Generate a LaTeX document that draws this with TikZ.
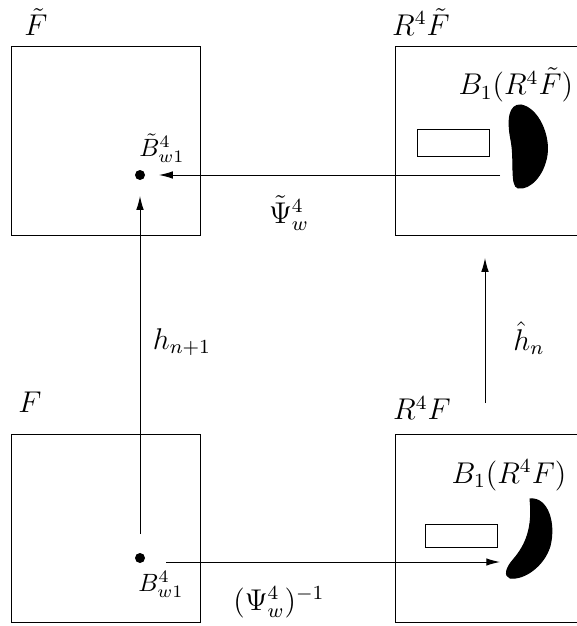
\documentclass[tikz,border=0pt]{standalone}
\usetikzlibrary{arrows.meta}
\begin{document}
\begin{tikzpicture}[x=0.4pt,y=-0.4pt,
  panel/.style={draw, minimum width=75.2pt, minimum height=75.2pt, inner sep=0pt},
  pt/.style={circle, fill, inner sep=0pt, minimum size=4pt},
  conn/.style={-{Latex[length=5.5pt,width=3pt]}},
  lab/.style={inner sep=0pt, font=\large},
  sublab/.style={inner sep=0pt, font=\normalsize},
  smallbox/.style={draw, minimum width=28.8pt, inner sep=0pt},
  blob/.style={fill=black, draw=black}]
\useasboundingbox (0,0) rectangle (576,626);
% panels
\node[panel] (Ft) at (106,141) {};
\node[panel] (RFt) at (489,141) {};
\node[panel] (F) at (106,528) {};
\node[panel] (RF) at (489,528) {};
% panel titles
\node[lab] (tFt) at (36,22) {$\tilde F$};
\node[lab] (tRFt) at (421,22) {$R^4\tilde F$};
\node[lab] (tF) at (30,402) {$F$};
\node[lab] (tRF) at (422,408) {$R^4F$};
% regions
\node[lab, anchor=west] (bRFt) at (458,85) {$B_1(R^4\tilde F)$};
\node[lab] (bRF) at (509,475) {$B_1(R^4F)$};
\node[smallbox, minimum height=10.4pt] (rt) at (453,143) {};
\node[smallbox, minimum height=9.2pt] (rb) at (461,535.5) {};
\fill[blob] (521,105) .. controls (538,108) and (550,135) .. (547,155)
  .. controls (544,175) and (530,190) .. (518,188)
  .. controls (510,186) and (515,160) .. (511,140)
  .. controls (507,120) and (509,104) .. (521,105) -- cycle;
\fill[blob] (530,499) .. controls (547,497) and (556,522) .. (550,546)
  .. controls (544,566) and (524,580) .. (510,578)
  .. controls (504,576) and (506,568) .. (513,560)
  .. controls (526,545) and (533,528) .. (530,499) -- cycle;
% points
\node[pt] (pT) at (140,175) {};
\node[pt] (pB) at (140,558) {};
\node[sublab] (lT) at (162,148) {$\tilde B^4_{w1}$};
\node[sublab] (lB) at (161,584) {$B^4_{w1}$};
% connectors
\coordinate (aTs) at (500,175);
\draw[conn, shorten >=5.4pt] (aTs) -- (pT);
\draw[conn, shorten <=7.4pt, shorten >=6.2pt] (pB) -- (pT);
\coordinate (aBs) at (166,562);
\coordinate (aBe) at (500,562);
\draw[conn] (aBs) -- (aBe);
\coordinate (aRs) at (485,403);
\coordinate (aRe) at (485,258);
\draw[conn] (aRs) -- (aRe);
% connector labels
\node[lab] (lPsiT) at (289,213) {$\tilde\Psi^4_w$};
\node[lab] (lPsiB) at (279,602) {$(\Psi^4_w)^{-1}$};
\node[lab] (lh) at (182,342) {$h_{n+1}$};
\node[lab] (lhh) at (529,338) {$\hat h_n$};
\end{tikzpicture}
\end{document}
